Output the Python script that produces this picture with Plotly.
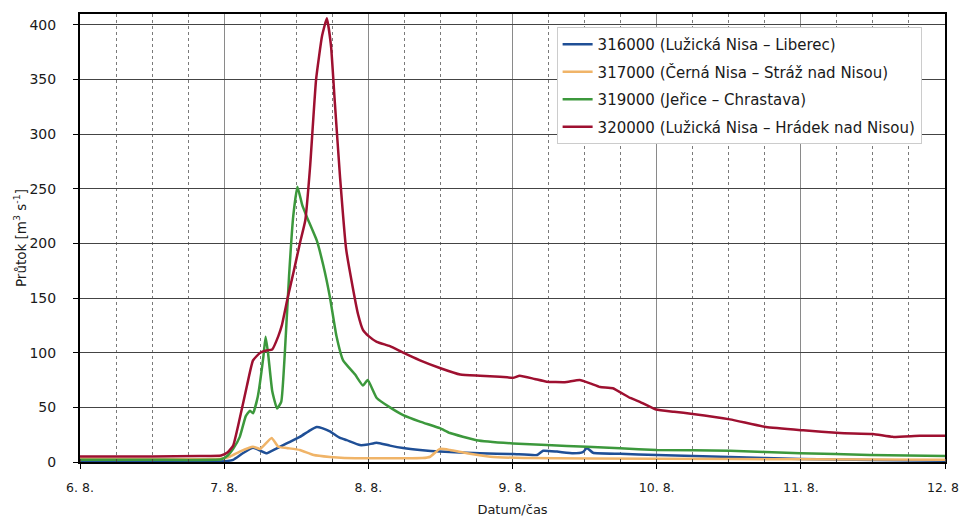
import plotly.graph_objects as go
import pandas as pd

start = pd.Timestamp("2010-08-06 00:00")

# hours since 6.8. 00:00, discharge in m3/s
h_316 = [0, 23.5, 24.6, 25.5, 27.1, 28.8, 29.8, 31.1, 32.6, 34.4, 36.6, 38.3, 39.4, 40.3, 41.6, 43.3, 44.4,
         46.6, 47.9, 49.4, 51.6, 53.8, 56.6, 59.9, 66.6, 72.1, 76.1, 77.1, 79.4, 82.1, 83.7, 84.4, 85.4,
         89.9, 96, 108.2, 119.9, 132, 144]
q_316 = [0.5, 0.5, 1, 2, 8, 13, 11, 8, 12, 17, 23, 29, 32, 31, 28, 22, 20,
         15.5, 16, 17.7, 15, 12.8, 11, 9.5, 8, 7.3, 6.4, 10.3, 9.5, 8, 9, 12.8, 8.5,
         7.5, 6.4, 4.6, 2.7, 1.8, 1.2]

h_317 = [0, 23.5, 25, 26.6, 28.8, 30, 31.9, 33, 34.4, 36.6, 38.9, 41.6, 44, 50, 57, 58.3, 59.9, 61.6,
         64.4, 68.3, 73.8, 96, 120, 144]
q_317 = [3, 3, 5, 9.5, 14, 12, 22, 14, 12.8, 11, 6.4, 4.6, 3.7, 3.5, 3.6, 4.8, 12, 11,
         8, 4.8, 3.7, 3, 2.5, 2]

h_319 = [0, 12, 23.5, 24.6, 25.5, 26.6, 27.6, 28.3, 28.8, 29.6, 30.5, 30.9, 31.3, 32, 32.8, 33.5, 34.1,
         34.8, 35.5, 36.2, 37, 37.75, 39.4, 40.5, 41.6, 42.7, 43.8, 45.8, 47.1, 47.9, 49.4, 51.6, 53.8,
         56.6, 59.9, 61.6, 66, 72.1, 77.7, 84.4, 89.9, 96, 108.2, 119.9, 131.5, 144]
q_319 = [2, 2, 2.5, 6, 12, 23, 42, 47, 44.5, 60, 95, 114.7, 100, 65, 49, 55, 100,
         170, 225, 252, 235, 224.5, 203, 180, 151, 115, 93, 80, 70, 75, 58.6, 50, 43,
         37, 31, 26.5, 20, 17, 15.5, 14, 12.5, 11, 10.3, 8, 6.5, 5.5]

h_320 = [0, 12, 20, 23.5, 24.6, 25.5, 26.6, 27.8, 28.8, 30, 31, 32, 33, 33.6, 34.6, 35.6, 36.6, 37.5,
         38.3, 39.3, 40.3, 41.1, 41.8, 42.4, 43.3, 44.3, 45.4, 46.3, 47.1, 48.1, 49.4, 51.6, 53.8, 56.6,
         59.9, 63.3, 66.6, 69.9, 72.1, 73.2, 75.7, 77.7, 80.7, 83.2, 84.9, 86.6, 88.7, 91.6, 93.2, 95.9,
         98.9, 102, 108.2, 114.2, 120.4, 126.5, 132, 135.3, 139.8, 144]
q_320 = [5, 5, 5.5, 6, 9, 15, 40, 70, 93, 100, 102, 103, 115, 125, 151, 175, 200, 221,
         270, 350, 390, 406, 380, 331, 260, 195, 160, 135, 121, 115, 110, 106, 100, 93,
         86, 80, 79, 78, 77, 79, 76, 73.5, 73, 75, 72, 68.6, 67.5, 58.6, 55, 48,
         46, 44, 39, 32, 29, 26.5, 25.6, 23, 24, 24]

names = ["316000 (Lužická Nisa – Liberec)",
         "317000 (Černá Nisa – Stráž nad Nisou)",
         "319000 (Jeřice – Chrastava)",
         "320000 (Lužická Nisa – Hrádek nad Nisou)"]
colors = ["#1f4f96", "#f0b468", "#3c983c", "#9e1030"]

tick_days = ["2010-08-06", "2010-08-07", "2010-08-08", "2010-08-09", "2010-08-10", "2010-08-11", "2010-08-12"]
tick_text = ["6. 8.", "7. 8.", "8. 8.", "9. 8.", "10. 8.", "11. 8.", "12. 8."]
y_ticks = [0, 50, 100, 150, 200, 250, 300, 350, 400]

fig = go.Figure()
for i, (hrs, q, nm, c) in enumerate(zip([h_316, h_317, h_319, h_320], [q_316, q_317, q_319, q_320], names, colors)):
    t = [start + pd.Timedelta(hours=v) for v in hrs]
    fig.add_trace(go.Scatter(x=t, y=q, mode="lines", name=nm, legendgroup=f"g{i}",
                             line=dict(color=c, width=2.5, shape="spline", smoothing=0.4)))

font = "DejaVu Sans, Liberation Sans, sans-serif"
# page body has an 8 px margin; sizes compensate so the plot area sits at x 80..945, y 14..462
fig.update_layout(
    width=952, height=509,
    margin=dict(l=72, r=15, t=6, b=55),
    plot_bgcolor="white", paper_bgcolor="white",
    font=dict(family=font, size=13, color="#1a1a1a"),
    legend=dict(x=0.551, y=0.971, xanchor="left", yanchor="top",
                bgcolor="white", bordercolor="#cccccc", borderwidth=1,
                font=dict(size=15), tracegroupgap=5, itemwidth=30),
    showlegend=True,
)
fig.update_xaxes(
    type="date", range=[tick_days[0], tick_days[-1]], automargin=False,
    tickvals=tick_days, ticktext=tick_text, ticklabeloverflow="allow",
    showgrid=True, gridcolor="#8a8a8a", gridwidth=1,
    minor=dict(dtick=6 * 3600 * 1000, showgrid=True, griddash="dot", gridcolor="#7a7a7a", gridwidth=1,
               ticks="inside", ticklen=3, tickcolor="#444"),
    showline=True, linecolor="black", linewidth=2, mirror=True,
    ticks="outside", ticklen=5, tickcolor="black", ticklabelstandoff=8,
    title=dict(text="Datum/čas", font=dict(size=13), standoff=15),
    tickfont=dict(size=12.5),
)
fig.update_yaxes(
    range=[0, 410], tickvals=y_ticks, automargin=False,
    showgrid=True, gridcolor="#444444", gridwidth=1,
    zeroline=True, zerolinecolor="black", zerolinewidth=2,
    showline=True, linecolor="black", linewidth=2, mirror=True,
    ticks="outside", ticklen=5, tickcolor="black", ticklabelstandoff=14,
    title=dict(text="Průtok [m<sup>3</sup> s<sup>-1</sup>]", font=dict(size=13.5), standoff=0),
    tickfont=dict(size=14),
)
fig.write_html("out.html")
